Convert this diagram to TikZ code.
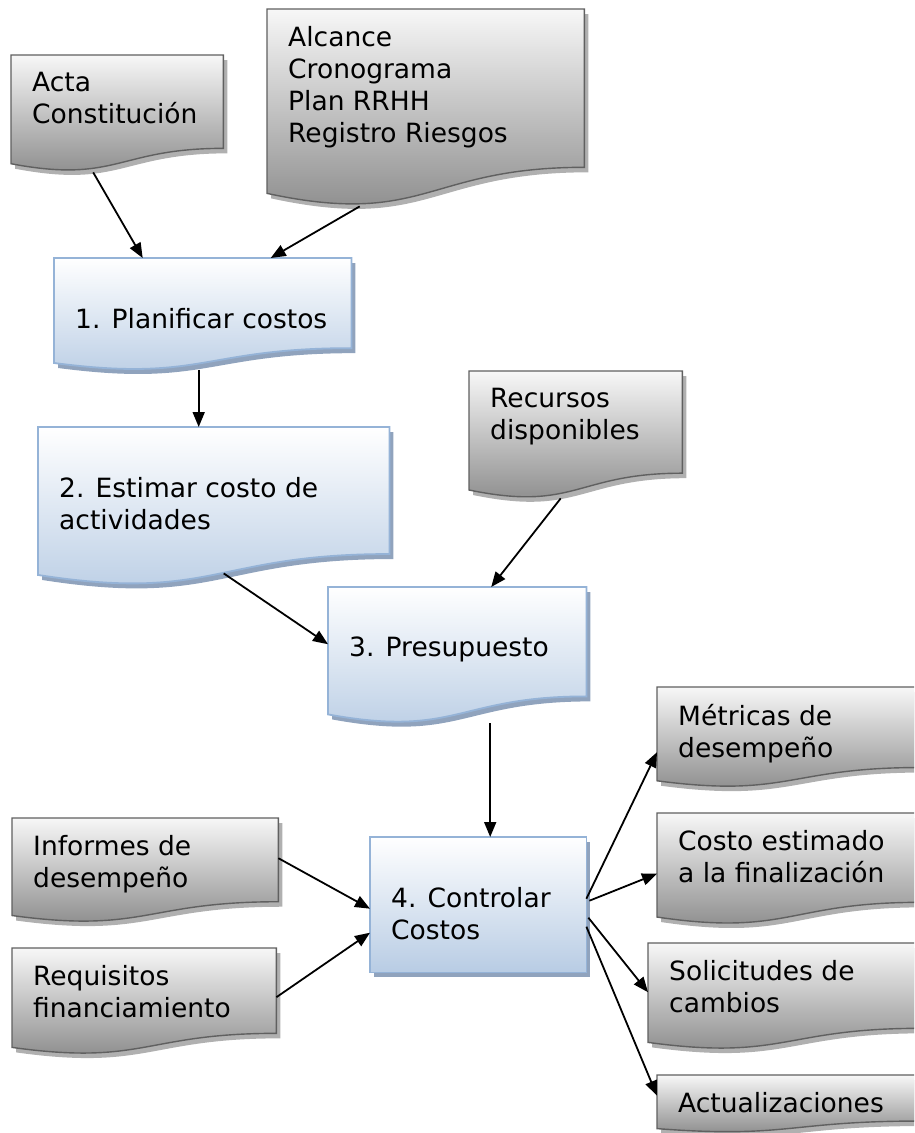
\documentclass[tikz,border=0pt]{standalone}
\usepackage{fontspec}
\setmainfont{DejaVu Sans}
\usetikzlibrary{arrows.meta,calc,backgrounds}
\definecolor{docgray}{HTML}{606060}
\definecolor{docgraymid}{HTML}{D2D2D2}
\definecolor{docgrayend}{HTML}{858585}
\definecolor{docblue}{HTML}{95B3D7}
\definecolor{docblueend}{HTML}{B8CCE4}
\definecolor{shadegray}{HTML}{B0B0B0}
\definecolor{shadeblue}{HTML}{90A3BD}
\newcommand{\docfont}{\fontsize{26.5pt}{32pt}\selectfont}
% document outline with a wavy lower edge
\newcommand{\docpath}[1]{(#1.north west) -- (#1.north east)
  -- ($(#1.north east)!0.802!(#1.south east)$)
  .. controls ($(#1.north)!0.802!(#1.south)$) and ($(#1.north)!1.1075!(#1.south)$)
  .. ($(#1.north west)!0.934!(#1.south west)$) -- cycle}
\tikzset{
  docnode/.style={draw=none, inner sep=0pt, anchor=north west},
  doctext/.style={anchor=north west, align=left, inner sep=0pt, font=\docfont, xshift=21pt},
  graytext/.style={doctext, yshift=-17pt},
  bluetext/.style={doctext, yshift=-50pt},
  grayfill/.style={draw=docgray, line width=1.4pt, top color=white!97!black, middle color=docgraymid, bottom color=docgrayend},
  bluefill/.style={draw=docblue, line width=1.8pt, top color=white, bottom color=docblueend},
  grayshadow/.style={fill=shadegray, transform canvas={shift={(4pt,-5pt)}}},
  blueshadow/.style={fill=shadeblue, transform canvas={shift={(4pt,-5pt)}}},
  flowarrow/.style={-{Triangle[length=15pt,width=12pt]}, line width=1.8pt, draw=black}
}
\begin{document}
\begin{tikzpicture}[x=1pt, y=-1pt]
  \useasboundingbox (0,0) rectangle (914,1133);

  \node[docnode, minimum width=212pt, minimum height=116pt, label={[graytext]north west:{Acta\\Constitución}}] (acta) at (11,55) {};
  \node[docnode, minimum width=317pt, minimum height=197pt, label={[graytext]north west:{Alcance\\Cronograma\\Plan RRHH\\Registro Riesgos}}] (alcance) at (267,9) {};
  \node[docnode, minimum width=297pt, minimum height=112pt, label={[bluetext]north west:{1. Planificar costos}}] (plan) at (54,258) {};
  \node[docnode, minimum width=351pt, minimum height=158pt, label={[bluetext]north west:{2. Estimar costo de\\actividades}}] (estimar) at (38,427) {};
  \node[docnode, minimum width=213pt, minimum height=127pt, label={[graytext]north west:{Recursos\\disponibles}}] (recursos) at (469,371) {};
  \node[docnode, minimum width=258pt, minimum height=136pt, label={[bluetext]north west:{3. Presupuesto}}] (presup) at (328,587) {};
  \node[docnode, minimum width=216pt, minimum height=135pt, label={[bluetext]north west:{4. Controlar\\Costos}}] (control) at (370,837) {};
  \node[docnode, minimum width=266pt, minimum height=104pt, label={[graytext]north west:{Informes de\\desempeño}}] (informes) at (12,818) {};
  \node[docnode, minimum width=264pt, minimum height=106pt, label={[graytext]north west:{Requisitos\\financiamiento}}] (requisitos) at (12,948) {};
  \node[docnode, minimum width=262pt, minimum height=100pt, label={[graytext]north west:{Métricas de\\desempeño}}] (metricas) at (657,687) {};
  \node[docnode, minimum width=262pt, minimum height=111pt, label={[graytext]north west:{Costo estimado\\a la finalización}}] (costo) at (657,813) {};
  \node[docnode, minimum width=271pt, minimum height=106pt, label={[graytext]north west:{Solicitudes de\\cambios}}] (solicitudes) at (648,943) {};
  \node[docnode, minimum width=262pt, minimum height=57pt, label={[graytext]north west:{Actualizaciones}}] (actualiz) at (657,1075) {};

  \begin{scope}[on background layer]
    \clip (0,0) rectangle (914,1133);
    \foreach \n in {acta,alcance,recursos,informes,requisitos,metricas,costo,solicitudes,actualiz} {
      \fill[grayshadow] \docpath{\n};
      \draw[grayfill] \docpath{\n};
    }
    \foreach \n in {plan,estimar,presup} {
      \fill[blueshadow] \docpath{\n};
      \draw[bluefill] \docpath{\n};
    }
    \fill[blueshadow] (control.north west) rectangle (control.south east);
    \draw[bluefill] (control.north west) rectangle (control.south east);
  \end{scope}

  \draw[flowarrow] ([xshift=-24pt,yshift=-1pt]acta.south) -- ([xshift=-60pt]plan.north);
  \draw[flowarrow] ([xshift=-66pt]alcance.south) -- ([xshift=68pt]plan.north);
  \draw[flowarrow] ([xshift=-4pt]plan.south) -- ([xshift=-4pt]plan.south |- estimar.north);
  \draw[flowarrow] ([xshift=10pt,yshift=12pt]estimar.south) -- ([yshift=11pt]presup.west);
  \draw[flowarrow] ([xshift=-15pt]recursos.south) -- ([xshift=34pt]presup.north);
  \draw[flowarrow] ([xshift=33pt]presup.south) -- ([xshift=33pt]presup.south |- control.north);
  \draw[flowarrow] ([yshift=12pt]informes.east) -- ([yshift=-4pt]control.west);
  \draw[flowarrow] ([yshift=4pt]requisitos.east) -- ([yshift=-28pt]control.west);
  \draw[flowarrow] ([yshift=6pt]control.east) -- ([yshift=-15pt]metricas.west);
  \draw[flowarrow] ([xshift=3pt,yshift=4pt]control.east) -- ([yshift=-5pt]costo.west);
  \draw[flowarrow] ([xshift=2pt,yshift=-13pt]control.east) -- ([yshift=4pt]solicitudes.west);
  \draw[flowarrow] ([yshift=-22pt]control.east) -- ([yshift=8pt]actualiz.west);
\end{tikzpicture}
\end{document}
